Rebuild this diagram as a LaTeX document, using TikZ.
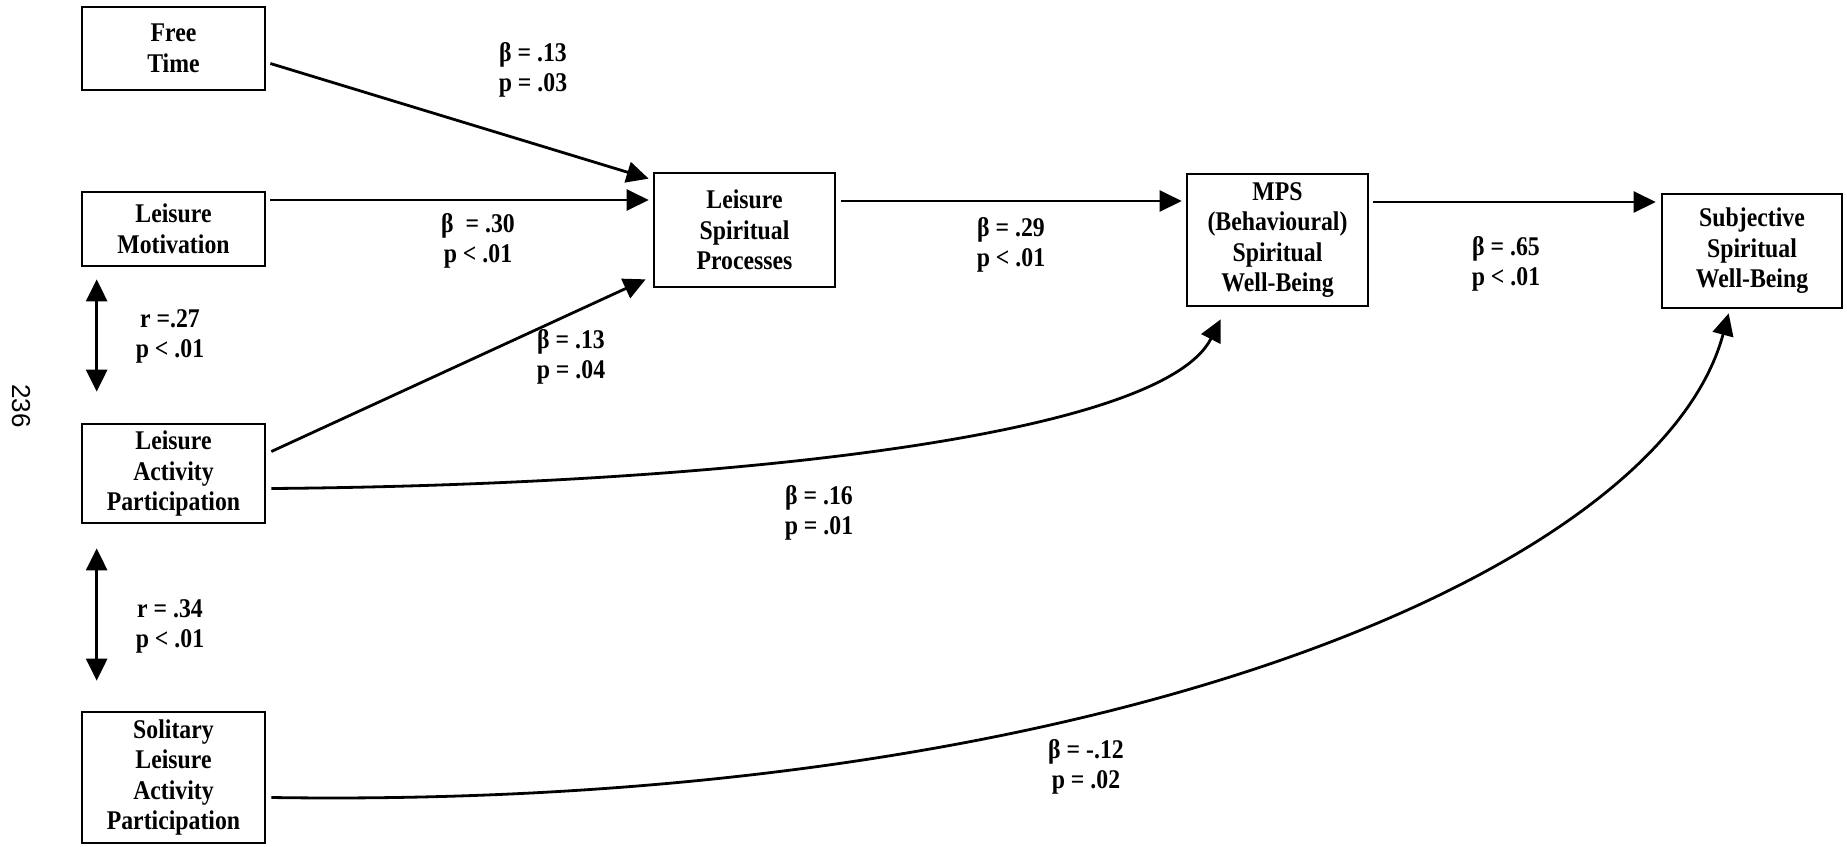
\documentclass[tikz,border=0pt]{standalone}
\usepackage{fontspec}
\setmainfont{Liberation Serif}[FakeStretch=0.88]
\newfontfamily\pagenumfont{Liberation Sans}
\usetikzlibrary{arrows.meta,calc}
\begin{document}
\begin{tikzpicture}[x=1pt,y=-1pt,
  box/.style={draw,line width=2.7pt,rectangle,inner sep=0pt,align=center,font=\bfseries\fontsize{27}{30.5}\selectfont},
  lbl/.style={align=center,inner sep=0pt,font=\bfseries\fontsize{27}{30}\selectfont},
  conn/.style={line width=2.8pt,-{Triangle[length=22pt,width=21pt]}},
  dconn/.style={line width=2.8pt,{Triangle[length=22pt,width=21pt]}-{Triangle[length=22pt,width=21pt]}}]
\useasboundingbox (0,0) rectangle (1847,846);

% boxes
\node[box,minimum width=183pt,minimum height=83pt] (ft) at (173.5,48.5) {Free\\Time};
\node[box,minimum width=183pt,minimum height=74pt] (lm) at (173.5,229) {Leisure\\Motivation};
\node[box,minimum width=183pt,minimum height=99pt] (lap) at (173.5,473.5) {Leisure\\Activity\\Participation};
\node[box,minimum width=183pt,minimum height=131pt] (sol) at (173.5,777.5) {Solitary\\Leisure\\Activity\\Participation};
\node[box,minimum width=181pt,minimum height=114pt] (lsp) at (744.5,230) {Leisure\\Spiritual\\Processes};
\node[box,minimum width=181pt,minimum height=132pt] (mps) at (1277.5,240) {MPS\\(Behavioural)\\Spiritual\\Well-Being};
\node[box,minimum width=180pt,minimum height=114pt] (ssw) at (1752,251) {Subjective\\Spiritual\\Well-Being};

% page number
\node[rotate=-90,inner sep=0pt,font=\pagenumfont\fontsize{26}{30}\selectfont] (pg) at (21,406) {236};

% connectors
\draw[conn] ($(ft.east)+(4,15)$) -- ($(lsp.north west)+(-4,7)$);
\draw[conn] ($(lm.east)+(4,-29)$) -- ($(lsp.west)+(-4,-30)$);
\draw[conn] ($(lap.east)+(5,-22)$) -- ($(lsp.south west)+(-7,-9)$);
\draw[conn] ($(lsp.east)+(5,-29)$) -- ($(mps.west)+(-4,-39)$);
\draw[conn] ($(mps.east)+(4,-38)$) -- ($(ssw.west)+(-5,-49)$);
\draw[conn] ($(lap.east)+(5,15)$) .. controls (700,485) and (1160,440) .. ($(mps.south west)+(35,12)$);
\draw[conn] ($(sol.east)+(5,20)$) .. controls (1100,810) and (1660,570) .. ($(ssw.south west)+(68,4)$);
\draw[dconn] ($(lm.south west)+(16,12)$) -- ($(lap.north west)+(16,-31)$);
\draw[dconn] ($(lap.south west)+(16,24)$) -- ($(sol.north west)+(16,-30)$);

% labels
\node[lbl] (l1) at (533,70) {β = .13\\p = .03};
\node[lbl] (l2) at (478,241) {β~ = .30\\p < .01};
\node[lbl] (l3) at (170,336) {r =.27\\p < .01};
\node[lbl] (l4) at (571,357) {β = .13\\p = .04};
\node[lbl] (l5) at (170,626) {r = .34\\p < .01};
\node[lbl] (l6) at (1011,245) {β = .29\\p < .01};
\node[lbl] (l7) at (1506,264) {β = .65\\p < .01};
\node[lbl] (l8) at (819,513) {β = .16\\p = .01};
\node[lbl] (l9) at (1086,767) {β = -.12\\p = .02};
\end{tikzpicture}
\end{document}
